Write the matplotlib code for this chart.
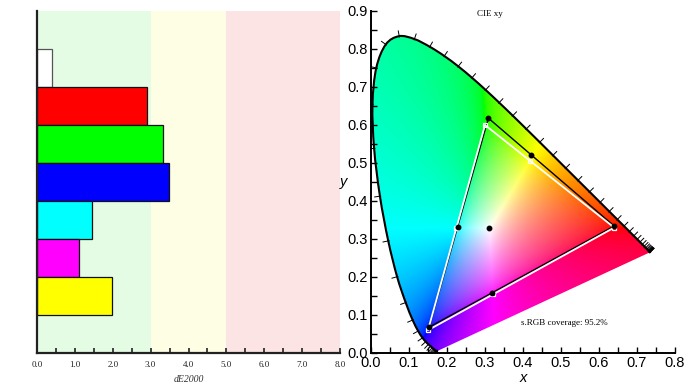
import numpy as np
import matplotlib
matplotlib.use("Agg")
import matplotlib.pyplot as plt
from matplotlib.patches import PathPatch
from matplotlib.path import Path
from matplotlib.ticker import MultipleLocator, FormatStrFormatter

# ---------------- data ----------------
categories = ["White", "Red", "Green", "Blue", "Cyan", "Magenta", "Yellow"]
de2000 = [0.40, 2.90, 3.32, 3.49, 1.46, 1.10, 1.97]
bar_colors = ["#ffffff", "#ff0000", "#00ff00", "#0000ff", "#00ffff", "#ff00ff", "#ffff00"]
bands = [(0.0, 3.0, "#e4fce4"), (3.0, 5.0, "#fefee4"), (5.0, 8.0, "#fde4e4")]

# CIE 1931 spectral locus (380-700 nm, 5 nm steps)
wavelengths = list(range(380, 705, 5))
locus_x = [0.1741, 0.1740, 0.1738, 0.1736, 0.1733, 0.1730, 0.1726, 0.1721, 0.1714, 0.1703,
           0.1689, 0.1669, 0.1644, 0.1611, 0.1566, 0.1510, 0.1440, 0.1355, 0.1241, 0.1096,
           0.0913, 0.0687, 0.0454, 0.0235, 0.0082, 0.0039, 0.0139, 0.0389, 0.0743, 0.1142,
           0.1547, 0.1929, 0.2296, 0.2658, 0.3016, 0.3373, 0.3731, 0.4087, 0.4441, 0.4788,
           0.5125, 0.5448, 0.5752, 0.6029, 0.6270, 0.6482, 0.6658, 0.6801, 0.6915, 0.7006,
           0.7079, 0.7140, 0.7190, 0.7230, 0.7260, 0.7283, 0.7300, 0.7311, 0.7320, 0.7327,
           0.7334, 0.7340, 0.7344, 0.7346, 0.7347]
locus_y = [0.0050, 0.0050, 0.0049, 0.0049, 0.0048, 0.0048, 0.0048, 0.0048, 0.0051, 0.0058,
           0.0069, 0.0086, 0.0109, 0.0138, 0.0177, 0.0227, 0.0297, 0.0399, 0.0578, 0.0868,
           0.1327, 0.2007, 0.2950, 0.4127, 0.5384, 0.6548, 0.7502, 0.8120, 0.8338, 0.8262,
           0.8059, 0.7816, 0.7543, 0.7243, 0.6923, 0.6589, 0.6245, 0.5896, 0.5547, 0.5202,
           0.4866, 0.4544, 0.4242, 0.3965, 0.3725, 0.3514, 0.3340, 0.3197, 0.3083, 0.2993,
           0.2920, 0.2859, 0.2809, 0.2770, 0.2740, 0.2717, 0.2700, 0.2689, 0.2680, 0.2673,
           0.2666, 0.2660, 0.2656, 0.2654, 0.2653]

# measured primaries (R, G, B) and secondaries (C, Y, M), white point
meas_prim_x = [0.640, 0.309, 0.153]
meas_prim_y = [0.334, 0.618, 0.068]
meas_sec_x = [0.230, 0.421, 0.318]
meas_sec_y = [0.332, 0.521, 0.159]
meas_white = (0.311, 0.330)
# sRGB reference
srgb_prim_x = [0.640, 0.300, 0.150]
srgb_prim_y = [0.330, 0.600, 0.060]
srgb_sec_x = [0.2247, 0.4193, 0.3209]
srgb_sec_y = [0.3287, 0.5053, 0.1542]

SERIF = "Liberation Serif"
SANS = "Liberation Sans"

fig = plt.figure(figsize=(6.93, 3.90), dpi=100)
W, H = 693.0, 390.0

# ---------------- left: dE2000 bars ----------------
ax1 = fig.add_axes([37 / W, 37 / H, 303 / W, 342 / H])
n = len(categories)
ypos = np.arange(n)[::-1] + 1.5
for lo, hi, c in bands:
    ax1.axvspan(lo, hi, color=c, lw=0, zorder=0)
edge = ["#555555"] + ["#111111"] * (n - 1)
ax1.barh(ypos, de2000, height=1.0, color=bar_colors, edgecolor=edge, linewidth=0.9, zorder=2)
ax1.set_xlim(0, 8)
ax1.set_ylim(0, n + 2)
ax1.set_yticks([])
for s in ["top", "right"]:
    ax1.spines[s].set_visible(False)
for s in ["left", "bottom"]:
    ax1.spines[s].set_linewidth(1.6)
    ax1.spines[s].set_color("#222222")
ax1.xaxis.set_major_locator(MultipleLocator(1.0))
ax1.xaxis.set_minor_locator(MultipleLocator(0.5))
ax1.xaxis.set_major_formatter(FormatStrFormatter("%.1f"))
ax1.tick_params(axis="x", which="both", direction="in", length=3.5, width=1.2,
                labelsize=6.5, pad=6, colors="#222222")
for lab in ax1.get_xticklabels():
    lab.set_fontfamily(SERIF)
ax1.set_xlabel("dE2000", fontfamily=SERIF, fontstyle="italic", fontsize=7,
               labelpad=4, color="#333333")

# ---------------- right: CIE xy ----------------
ax2 = fig.add_axes([371 / W, 37 / H, 304 / W, 342 / H])
ax2.set_xlim(0, 0.8)
ax2.set_ylim(0, 0.9)

# colour fill of the horseshoe
gx = np.linspace(0.0005, 0.8, 480)
gy = np.linspace(0.0005, 0.9, 540)
XX, YY = np.meshgrid(gx, gy)
Xc = XX / YY
Yc = np.ones_like(XX)
Zc = (1 - XX - YY) / YY
M = np.array([[3.2406, -1.5372, -0.4986],
              [-0.9689, 1.8758, 0.0415],
              [0.0557, -0.2040, 1.0570]])
rgb = np.stack([M[i, 0] * Xc + M[i, 1] * Yc + M[i, 2] * Zc for i in range(3)], axis=-1)
rgb = rgb - np.minimum(rgb.min(axis=-1, keepdims=True), 0)
rgb = rgb / np.maximum(rgb.max(axis=-1, keepdims=True), 1e-9)
rgb = np.power(np.clip(rgb, 0, 1), 1 / 1.8)
rgb = np.clip(rgb, 0, 1)
img = ax2.imshow(rgb, origin="lower", extent=[0, 0.8, 0, 0.9], interpolation="bilinear",
                 aspect="auto", zorder=1)

# smooth (Catmull-Rom -> Bezier) rendering of the locus through the table points
P = np.column_stack([locus_x, locus_y])
verts = [P[0]]
codes = [Path.MOVETO]
for i in range(len(P) - 1):
    p0 = P[max(i - 1, 0)]
    p1 = P[i]
    p2 = P[i + 1]
    p3 = P[min(i + 2, len(P) - 1)]
    verts += [p1 + (p2 - p0) / 6.0, p2 - (p3 - p1) / 6.0, p2]
    codes += [Path.CURVE4] * 3
open_path = Path(verts, codes)
closed_path = Path(verts + [P[0], P[0]], codes + [Path.LINETO, Path.CLOSEPOLY])
clip_patch = PathPatch(closed_path, transform=ax2.transData, facecolor="none", edgecolor="none")
ax2.add_patch(clip_patch)
img.set_clip_path(clip_patch)
ax2.add_patch(PathPatch(open_path, facecolor="none", edgecolor="black", lw=1.5, zorder=3,
                        capstyle="round"))

# wavelength ticks
px = np.array(locus_x)
py = np.array(locus_y)
for i in range(len(px)):
    k = 1
    while True:
        a = max(i - k, 0)
        b = min(i + k, len(px) - 1)
        dx, dy = px[b] - px[a], py[b] - py[a]
        if np.hypot(dx, dy) > 0.01 or k > 20:
            break
        k += 1
    nrm = np.hypot(dx, dy)
    nx, ny = -dy / nrm, dx / nrm
    ax2.plot([px[i] - 0.002 * nx, px[i] + 0.014 * nx],
             [py[i] - 0.002 * ny, py[i] + 0.014 * ny],
             color="black", lw=0.7, zorder=3)

# triangles
ax2.plot(meas_prim_x + meas_prim_x[:1], meas_prim_y + meas_prim_y[:1],
         color="black", lw=1.0, zorder=4)
ax2.plot(srgb_prim_x + srgb_prim_x[:1], srgb_prim_y + srgb_prim_y[:1],
         color="white", lw=1.3, zorder=5)
ax2.plot(srgb_prim_x + srgb_sec_x, srgb_prim_y + srgb_sec_y, ls="none", marker="s",
         ms=3.5, mfc="none", mec="white", mew=0.9, zorder=6)
ax2.plot(meas_prim_x + meas_sec_x + [meas_white[0]], meas_prim_y + meas_sec_y + [meas_white[1]],
         ls="none", marker="o", ms=3.2, color="black", zorder=7)

for s in ["top", "right"]:
    ax2.spines[s].set_visible(False)
ax2.spines["left"].set_linewidth(1.4)
ax2.spines["bottom"].set_linewidth(1.4)
ax2.xaxis.set_major_locator(MultipleLocator(0.1))
ax2.xaxis.set_minor_locator(MultipleLocator(0.05))
ax2.yaxis.set_major_locator(MultipleLocator(0.1))
ax2.yaxis.set_minor_locator(MultipleLocator(0.05))
ax2.xaxis.set_major_formatter(FormatStrFormatter("%.1f"))
ax2.yaxis.set_major_formatter(FormatStrFormatter("%.1f"))
ax2.tick_params(which="both", direction="in", length=4, width=1.0, labelsize=10.5, pad=2)
for lab in ax2.get_xticklabels() + ax2.get_yticklabels():
    lab.set_fontfamily(SANS)
ax2.set_xlabel("x", fontfamily=SANS, fontstyle="italic", fontsize=10.5, labelpad=1)
ax2.set_ylabel("y", fontfamily=SANS, fontstyle="italic", fontsize=10.5, labelpad=3,
               rotation=0, va="center")
ax2.text(0.312, 0.893, "CIE xy", fontfamily=SERIF, fontsize=6.5, ha="center", va="center")
ax2.text(0.51, 0.079, "s.RGB coverage: 95.2%", fontfamily=SERIF, fontsize=6.5,
         ha="center", va="center")

fig.savefig("out.png", dpi=100)
